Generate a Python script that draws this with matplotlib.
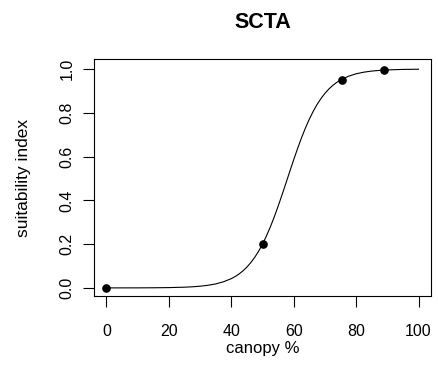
import matplotlib
matplotlib.use('Agg')
import matplotlib.pyplot as plt

plt.rcParams['font.family'] = ['Liberation Sans', 'DejaVu Sans']

# observed points
pts_x = [0, 50, 75.5, 89]
pts_y = [0.0, 0.2, 0.95, 0.995]

# fitted curve
curve_x = [0, 5, 10, 15, 20, 25, 27.5, 30, 32.5, 35, 37.5, 40, 41.25, 42.5, 43.75,
           45, 46.25, 47.5, 48.75, 50, 51.25, 52.5, 53.75, 55, 56.25, 57.5, 58.75,
           60, 61.25, 62.5, 63.75, 65, 66.25, 67.5, 68.75, 70, 71.25, 72.5, 73.75,
           75, 77.5, 80, 82.5, 85, 87.5, 90, 95, 100]
curve_y = [0.0000, 0.0001, 0.0002, 0.0006, 0.0014, 0.0033, 0.0050, 0.0078, 0.0119,
           0.0182, 0.0279, 0.0423, 0.0520, 0.0638, 0.0780,
           0.0951, 0.1155, 0.1395, 0.1675, 0.2000, 0.2369, 0.2782, 0.3237, 0.3729,
           0.4248, 0.4783, 0.5325, 0.5858, 0.6372, 0.6857, 0.7304, 0.7708, 0.8068,
           0.8384, 0.8656, 0.8889, 0.9086, 0.9251, 0.9387, 0.9500, 0.9670, 0.9784,
           0.9859, 0.9908, 0.9940, 0.9961, 0.9984, 0.9993]

xticks = [0, 20, 40, 60, 80, 100]
yticks = [0.0, 0.2, 0.4, 0.6, 0.8, 1.0]

fig = plt.figure(figsize=(4.38, 3.84), dpi=100)
fig.set_facecolor('w')
ax = fig.add_axes([94 / 438, 1 - 296 / 384, (431 - 94) / 438, (296 - 59) / 384])

ax.plot(curve_x, curve_y, color='k', lw=0.8)
ax.plot(pts_x, pts_y, 'o', color='k', ms=5.2)

ax.set_xlim(-4, 104)
ax.set_ylim(-0.037, 1.046)
ax.set_xticks(xticks)
ax.set_xticklabels([str(v) for v in xticks])
ax.set_yticks(yticks)
ax.set_yticklabels(['%.1f' % v for v in yticks], rotation=90, va='center')

for s in ax.spines.values():
    s.set_linewidth(0.8)
ax.tick_params(direction='out', length=7.9, width=0.8, labelsize=11.5)
ax.tick_params(axis='x', pad=12)
ax.tick_params(axis='y', pad=6)

ax.set_xlabel('canopy %', fontsize=12, labelpad=2)
ax.set_ylabel('suitability index', fontsize=12.5, labelpad=21)
ax.set_title('SCTA', fontsize=15.5, fontweight='bold', pad=22)

fig.savefig('out.png', dpi=100)
